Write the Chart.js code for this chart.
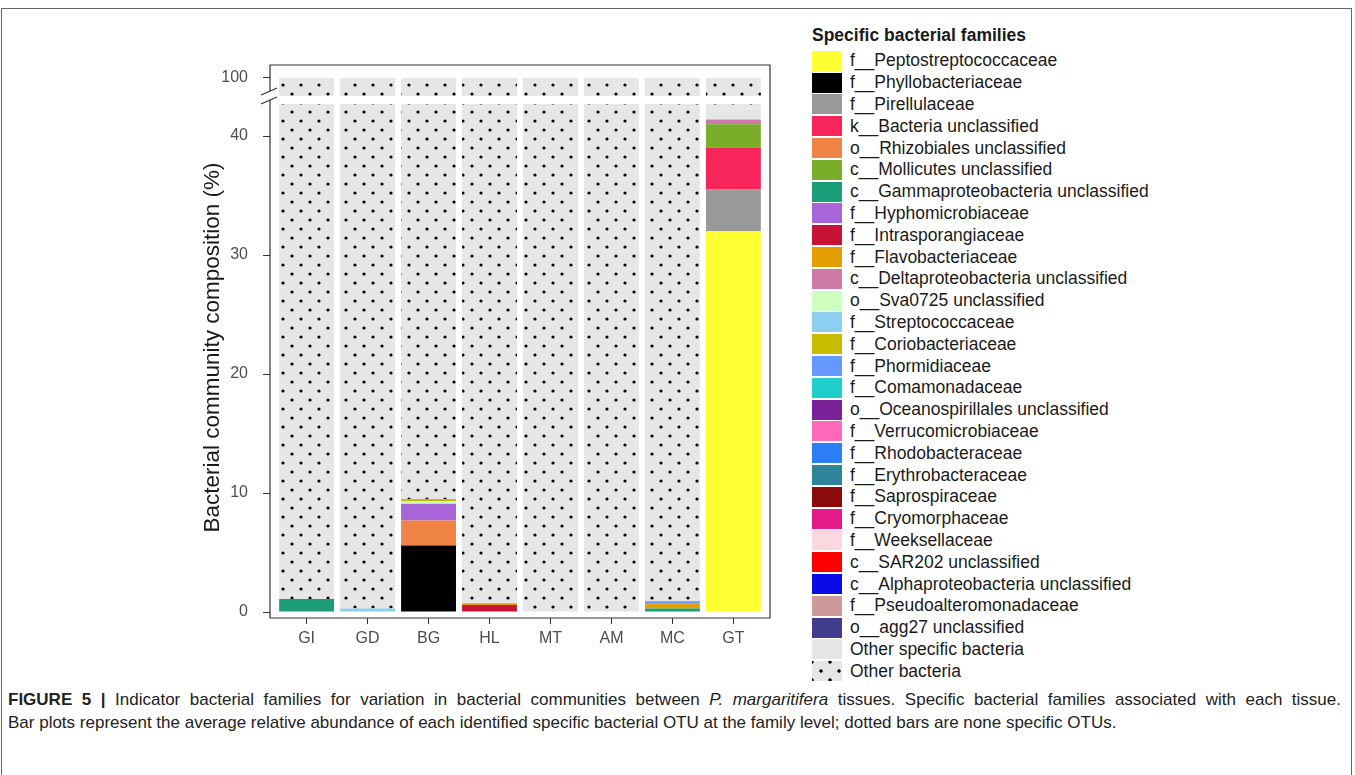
<!DOCTYPE html>
<html>
<head>
<meta charset="utf-8">
<script src="https://cdn.jsdelivr.net/npm/chart.js@4.4.1/dist/chart.umd.min.js"></script>
<style>
  body { margin: 0; background: #fff; font-family: "Liberation Sans", Arial, sans-serif; }
  #frame { position: absolute; left: 1px; top: 8px; width: 1351px; height: 800px;
           border: 1.5px solid #666; box-sizing: border-box; }
  #plot { position: absolute; left: 0; top: 0; }
  #legend { position: absolute; left: 812px; top: 24px; color: #1a1a1a; }
  #legend .title { font-weight: bold; font-size: 17.5px; height: 26px; line-height: 22px; }
  #legend .row { height: 21.8px; display: flex; align-items: center; font-size: 17.5px; }
  #legend .sw { width: 30px; height: 20px; margin-right: 8px; flex: none; }
  #caption { position: absolute; left: 8px; top: 688px; width: 1333px; font-size: 17px; color: #222; line-height: 23px; }
  #caption .l1 { text-align: justify; text-align-last: justify; }
  #caption b { font-weight: bold; }
</style>
</head>
<body>
<div id="frame"></div>
<canvas id="plot" width="800" height="680"></canvas>
<div id="legend"></div>
<div id="caption">
  <div class="l1"><b>FIGURE 5 |</b> Indicator bacterial families for variation in bacterial communities between <i>P. margaritifera</i> tissues. Specific bacterial families associated with each tissue.</div>
  <div>Bar plots represent the average relative abundance of each identified specific bacterial OTU at the family level; dotted bars are none specific OTUs.</div>
</div>
<script>
// Indicator bacterial families per tissue (%), stacked, broken y axis

const tissues = ["GI", "GD", "BG", "HL", "MT", "AM", "MC", "GT"];
const yTicks = [0, 10, 20, 30, 40];
const yTopTicks = [100];

const families = [
  "f__Peptostreptococcaceae", "f__Phyllobacteriaceae", "f__Pirellulaceae",
  "k__Bacteria unclassified", "o__Rhizobiales unclassified", "c__Mollicutes unclassified",
  "c__Gammaproteobacteria unclassified", "f__Hyphomicrobiaceae", "f__Intrasporangiaceae",
  "f__Flavobacteriaceae", "c__Deltaproteobacteria unclassified", "o__Sva0725 unclassified",
  "f__Streptococcaceae", "f__Coriobacteriaceae", "f__Phormidiaceae", "f__Comamonadaceae",
  "o__Oceanospirillales unclassified", "f__Verrucomicrobiaceae", "f__Rhodobacteraceae",
  "f__Erythrobacteraceae", "f__Saprospiraceae", "f__Cryomorphaceae", "f__Weeksellaceae",
  "c__SAR202 unclassified", "c__Alphaproteobacteria unclassified",
  "f__Pseudoalteromonadaceae", "o__agg27 unclassified"
];
const familyColors = [
  "#ffff33", "#000000", "#999999", "#f8255b", "#f08446", "#78ae2a",
  "#1b9e77", "#a865d9", "#c81434", "#e69f00", "#cc79a7", "#cfffc0",
  "#8ccfee", "#c7bc00", "#6699ff", "#1fcfc9", "#7b2197", "#ff69bb",
  "#2b7ef5", "#2d8599", "#8b0a0a", "#e6198b", "#fbd8e0", "#ff0000",
  "#0a0ae6", "#cd9a99", "#413c8d"
];

//                               GI   GD   BG    HL    MT AM  MC    GT
const peptostreptococcaceae = [0,   0,   0,    0,    0, 0, 0,    32.0];
const phyllobacteriaceae    = [0,   0,   5.6,  0,    0, 0, 0,    0];
const pirellulaceae         = [0,   0,   0,    0,    0, 0, 0,    3.5];
const bacteriaUncl          = [0,   0,   0,    0,    0, 0, 0,    3.55];
const rhizobialesUncl       = [0,   0,   2.1,  0,    0, 0, 0,    0];
const mollicutesUncl        = [0,   0,   0,    0,    0, 0, 0,    1.95];
const gammaproteoUncl       = [1.1, 0,   0,    0,    0, 0, 0.3,  0];
const hyphomicrobiaceae     = [0,   0,   1.4,  0,    0, 0, 0,    0];
const intrasporangiaceae    = [0,   0,   0,    0.6,  0, 0, 0,    0];
const flavobacteriaceae     = [0,   0,   0,    0.15, 0, 0, 0.4,  0];
const deltaproteoUncl       = [0,   0,   0,    0,    0, 0, 0,    0.4];
const sva0725Uncl           = [0,   0,   0.2,  0,    0, 0, 0,    0];
const streptococcaceae      = [0,   0.3, 0,    0,    0, 0, 0,    0];
const coriobacteriaceae     = [0,   0,   0.2,  0,    0, 0, 0,    0];
const phormidiaceae         = [0,   0,   0,    0,    0, 0, 0.2,  0];
const comamonadaceae        = [0,   0,   0,    0,    0, 0, 0,    0];
const oceanospirillalesUncl = [0,   0,   0,    0,    0, 0, 0,    0];
const verrucomicrobiaceae   = [0,   0,   0,    0,    0, 0, 0,    0];
const rhodobacteraceae      = [0,   0,   0,    0,    0, 0, 0,    0];
const erythrobacteraceae    = [0,   0,   0,    0,    0, 0, 0,    0];
const saprospiraceae        = [0,   0,   0,    0,    0, 0, 0,    0];
const cryomorphaceae        = [0,   0,   0,    0,    0, 0, 0,    0];
const weeksellaceae         = [0,   0,   0,    0,    0, 0, 0,    0];
const sar202Uncl            = [0,   0,   0,    0,    0, 0, 0,    0];
const alphaproteoUncl       = [0,   0,   0,    0,    0, 0, 0,    0];
const pseudoalteromonadaceae= [0,   0,   0,    0,    0, 0, 0,    0];
const agg27Uncl             = [0,   0,   0,    0,    0, 0, 0,    0];
const otherSpecific         = [0,   0,   0,    0,    0, 0, 0,    0.9];
const otherBacteria         = [98.9, 99.7, 90.5, 99.25, 100, 100, 99.1, 57.7];

const familyValues = [
  peptostreptococcaceae, phyllobacteriaceae, pirellulaceae, bacteriaUncl, rhizobialesUncl,
  mollicutesUncl, gammaproteoUncl, hyphomicrobiaceae, intrasporangiaceae, flavobacteriaceae,
  deltaproteoUncl, sva0725Uncl, streptococcaceae, coriobacteriaceae, phormidiaceae,
  comamonadaceae, oceanospirillalesUncl, verrucomicrobiaceae, rhodobacteraceae,
  erythrobacteraceae, saprospiraceae, cryomorphaceae, weeksellaceae, sar202Uncl,
  alphaproteoUncl, pseudoalteromonadaceae, agg27Uncl
];

// axis break: lower panel shows 0..breakLow, upper panel breakHigh..100
const breakLow = 42.7;
const breakHigh = 98.2;

const TEXT = "#4d4d4d";
const LINE = "#333333";
const OTHER_SPEC_COLOR = "#e6e6e6";

function dotPattern() {
  const c = document.createElement("canvas");
  c.width = 18; c.height = 18;
  const g = c.getContext("2d");
  g.fillStyle = OTHER_SPEC_COLOR;
  g.fillRect(0, 0, 18, 18);
  g.fillStyle = "#000";
  [[4, 4], [13, 13]].forEach(([x, y]) => {
    g.beginPath(); g.arc(x, y, 1.6, 0, Math.PI * 2); g.fill();
  });
  return g.createPattern(c, "repeat");
}
const dots = dotPattern();

const toPoints = arr => arr.map((v, i) => ({ x: i, y: v }));

const datasets = families.map((name, k) => ({
  label: name,
  data: toPoints(familyValues[k]),
  backgroundColor: familyColors[k],
  yAxisID: "y"
}));
datasets.push({ label: "Other specific bacteria", data: toPoints(otherSpecific),
                backgroundColor: OTHER_SPEC_COLOR, yAxisID: "y" });
datasets.push({ label: "Other bacteria", data: toPoints(otherBacteria),
                backgroundColor: dots, yAxisID: "y" });
// same "other bacteria" block seen again above the break
datasets.push({ label: "Other bacteria (top)",
                data: otherBacteria.map((v, i) => ({ x: i, y: [100 - v, 100] })),
                backgroundColor: dots, yAxisID: "yTop" });

// keep each panel's bars inside its own part of the broken axis
const panelClip = {
  id: "panelClip",
  beforeDatasetDraw(chart, args) {
    const { ctx, chartArea } = chart;
    const id = args.meta.yAxisID;
    let top = chartArea.top, bottom = chartArea.bottom;
    if (id === "y") top = chart.scales.y.getPixelForValue(breakLow);
    else bottom = chart.scales.yTop.getPixelForValue(breakHigh);
    ctx.save();
    ctx.beginPath();
    ctx.rect(chartArea.left, top, chartArea.right - chartArea.left, bottom - top);
    ctx.clip();
  },
  afterDatasetDraw(chart) { chart.ctx.restore(); }
};

// panel frame with the // break on the left axis, plus the y title
const panelFrame = {
  id: "panelFrame",
  afterDraw(chart) {
    const { ctx, chartArea: { left, right, top, bottom } } = chart;
    const gapTop = chart.scales.yTop.getPixelForValue(breakHigh) - 5;
    const gapBot = chart.scales.y.getPixelForValue(breakLow) - 4;
    ctx.save();
    ctx.strokeStyle = LINE;
    ctx.lineWidth = 1.2;
    ctx.beginPath();
    ctx.moveTo(left, gapTop); ctx.lineTo(left, top); ctx.lineTo(right, top);
    ctx.lineTo(right, bottom); ctx.lineTo(left, bottom); ctx.lineTo(left, gapBot);
    ctx.stroke();
    ctx.beginPath();
    [gapTop, gapBot].forEach(yy => {
      ctx.moveTo(left - 9, yy + 4); ctx.lineTo(left + 7, yy - 3);
    });
    ctx.stroke();

    ctx.translate(213, (top + bottom) / 2 + 6);
    ctx.rotate(-Math.PI / 2);
    ctx.fillStyle = "#1a1a1a";
    ctx.font = "22.5px 'Liberation Sans', Arial, sans-serif";
    ctx.textAlign = "center";
    ctx.textBaseline = "middle";
    ctx.fillText("Bacterial community composition (%)", 0, 0);
    ctx.restore();
  }
};

const tickFont = { family: "'Liberation Sans', Arial, sans-serif", size: 16 };

new Chart(document.getElementById("plot").getContext("2d"), {
  type: "bar",
  data: { datasets },
  plugins: [panelClip, panelFrame],
  options: {
    responsive: false,
    animation: false,
    layout: { padding: { left: 200, right: 30, top: 65, bottom: 0 } },
    datasets: { bar: { categoryPercentage: 1, barPercentage: 0.9, borderWidth: 0 } },
    plugins: { legend: { display: false }, tooltip: { enabled: false } },
    scales: {
      x: {
        type: "linear",
        offset: false,
        min: -0.6,
        max: 7.6,
        stacked: true,
        afterBuildTicks: s => { s.ticks = tissues.map((t, i) => ({ value: i })); },
        afterFit: s => { s.height = 62; },
        ticks: { color: TEXT, font: tickFont, padding: 5, maxRotation: 0,
                 callback: v => tissues[v] },
        grid: { offset: false, drawOnChartArea: false, tickLength: 6, color: LINE },
        border: { display: false }
      },
      y: {
        type: "linear",
        position: "left",
        stack: "broken",
        stackWeight: 520,
        stacked: true,
        min: -0.5,
        max: 43.2,
        afterBuildTicks: s => { s.ticks = yTicks.map(v => ({ value: v })); },
        afterFit: s => { s.width = 70; },
        ticks: { color: TEXT, font: tickFont, padding: 15 },
        grid: { drawOnChartArea: false, tickLength: 7, color: LINE },
        border: { display: false }
      },
      yTop: {
        type: "linear",
        position: "left",
        stack: "broken",
        stackWeight: 33,
        min: 98,
        max: 101.3,
        afterBuildTicks: s => { s.ticks = yTopTicks.map(v => ({ value: v })); },
        afterFit: s => { s.width = 70; },
        ticks: { color: TEXT, font: tickFont, padding: 15 },
        grid: { drawOnChartArea: false, tickLength: 7, color: LINE },
        border: { display: false }
      }
    }
  }
});

// legend, built from the same names and colours
const legend = document.getElementById("legend");
legend.innerHTML = '<div class="title">Specific bacterial families</div>';
const legendItems = families.map((f, k) => ({ label: f, bg: familyColors[k] }));
legendItems.push({ label: "Other specific bacteria", bg: OTHER_SPEC_COLOR });
legendItems.push({ label: "Other bacteria", bg:
  "radial-gradient(circle, #000 1.4px, transparent 1.9px) 0px 1px / 18px 18px, " +
  "radial-gradient(circle, #000 1.4px, transparent 1.9px) 9px 10px / 18px 18px, " + OTHER_SPEC_COLOR });
legendItems.forEach(it => {
  const row = document.createElement("div");
  row.className = "row";
  const sw = document.createElement("div");
  sw.className = "sw";
  sw.style.background = it.bg;
  const tx = document.createElement("span");
  tx.textContent = it.label;
  row.appendChild(sw);
  row.appendChild(tx);
  legend.appendChild(row);
});
</script>
</body>
</html>
